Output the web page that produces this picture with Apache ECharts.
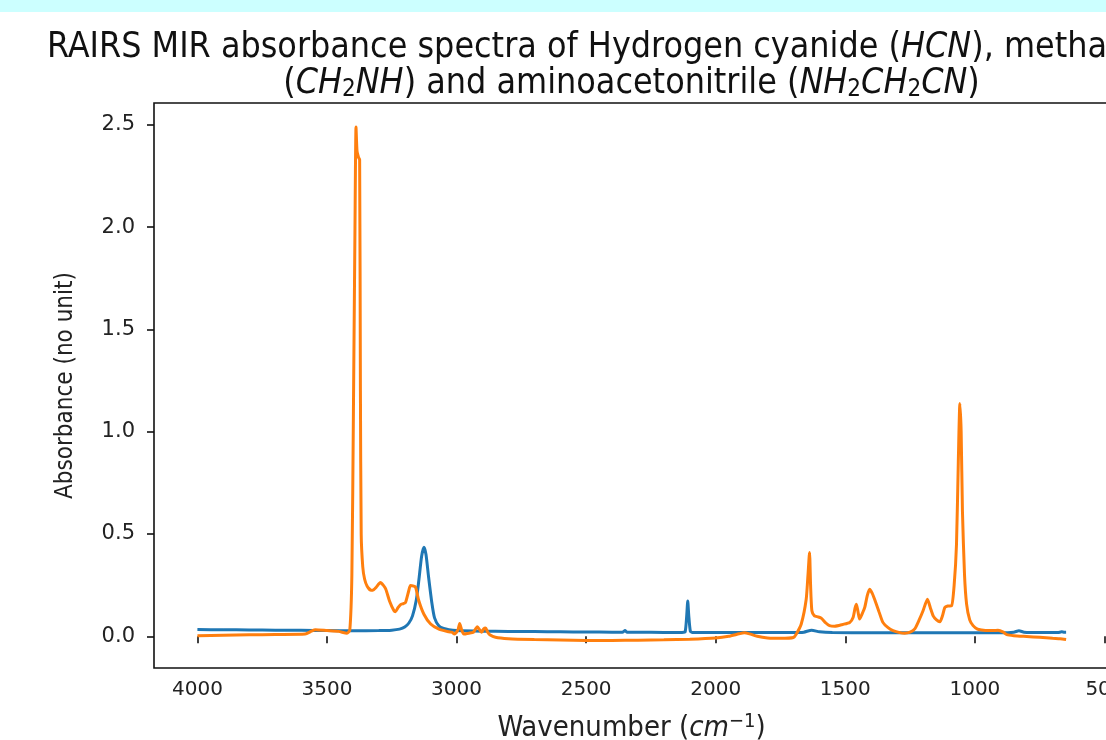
<!DOCTYPE html>
<html>
<head>
<meta charset="utf-8">
<script src="https://cdn.jsdelivr.net/npm/echarts@6/dist/echarts.min.js"></script>
<style>
html,body{margin:0;padding:0;background:#fff;}
#chart{width:1106px;height:740px;}
</style>
</head>
<body>
<div id="chart"></div>
<script>
// Series 1 (blue)
const blueWavenumber = [4000,3900,3800,3700,3600,3500,3400,3300,3250,3220,3200,3184,3170,3155,3145,3135,3126,3118,3108,3095,3085,3068,3050,3030,3000,2900,2800,2700,2600,2500,2400,2360,2350,2343,2300,2200,2130,2118,2112,2108,2104,2098,2090,2000,1900,1800,1700,1660,1630,1600,1550,1400,1200,1000,900,850,830,810,750,680,665,655,648];
const blueAbsorbance = [0.033,0.032,0.031,0.030,0.029,0.028,0.027,0.028,0.030,0.035,0.045,0.065,0.10,0.18,0.28,0.39,0.435,0.40,0.29,0.16,0.09,0.05,0.038,0.032,0.028,0.025,0.024,0.023,0.022,0.021,0.020,0.020,0.028,0.020,0.020,0.019,0.019,0.022,0.10,0.173,0.10,0.025,0.019,0.018,0.018,0.018,0.018,0.020,0.030,0.022,0.018,0.017,0.017,0.017,0.017,0.020,0.027,0.020,0.018,0.018,0.022,0.020,0.020];

// Series 2 (orange)
const orangeWavenumber = [4000,3900,3800,3700,3584,3560,3545,3500,3455,3423,3412,3404,3398,3392,3388,3384,3378,3374,3371,3368,3362,3355,3345,3330,3323,3310,3294,3283,3273,3258,3242,3236,3226,3216,3205,3197,3185,3178,3165,3158,3146,3126,3100,3068,3030,3018,3008,2995,2988,2980,2972,2952,2935,2920,2910,2903,2896,2888,2880,2872,2850,2800,2700,2600,2500,2400,2300,2200,2100,2000,1950,1910,1890,1870,1840,1800,1750,1700,1689,1670,1651,1644,1638,1634,1629,1619,1605,1593,1575,1561,1541,1510,1483,1470,1462,1457,1451,1445,1435,1425,1415,1406,1396,1387,1370,1355,1335,1316,1290,1271,1250,1232,1215,1200,1183,1172,1161,1148,1135,1125,1116,1105,1090,1080,1071,1064,1058,1053,1048,1040,1032,1020,1007,990,974,950,929,911,890,877,850,800,750,700,671,648];
const orangeAbsorbance = [0.003,0.005,0.007,0.009,0.011,0.025,0.032,0.028,0.024,0.015,0.03,0.3,1.1,2.0,2.49,2.37,2.34,2.33,1.2,0.5,0.34,0.28,0.245,0.225,0.225,0.24,0.263,0.25,0.23,0.17,0.126,0.12,0.14,0.155,0.16,0.165,0.22,0.248,0.245,0.24,0.175,0.108,0.06,0.035,0.022,0.02,0.011,0.03,0.063,0.03,0.011,0.015,0.02,0.047,0.03,0.02,0.035,0.04,0.02,0.008,-0.005,-0.012,-0.016,-0.018,-0.02,-0.02,-0.019,-0.017,-0.014,-0.008,0.0,0.012,0.017,0.012,0.0,-0.008,-0.01,-0.006,0.011,0.06,0.18,0.3,0.41,0.25,0.125,0.10,0.095,0.089,0.065,0.052,0.049,0.058,0.068,0.092,0.14,0.157,0.12,0.084,0.11,0.141,0.20,0.23,0.21,0.181,0.12,0.068,0.042,0.028,0.018,0.015,0.02,0.036,0.08,0.125,0.181,0.14,0.10,0.08,0.071,0.10,0.141,0.148,0.149,0.25,0.449,0.85,1.138,1.0,0.611,0.3,0.157,0.08,0.052,0.035,0.031,0.028,0.028,0.029,0.02,0.008,0.003,-0.001,-0.005,-0.01,-0.012,-0.016];

const xTickValues = [4000,3500,3000,2500,2000,1500,1000,500];
const yTickValues = [0.0,0.5,1.0,1.5,2.0,2.5];

const FONT = "DejaVu Sans";
const CFONT = "'DejaVu Sans Condensed', 'DejaVu Sans'";
const chart = echarts.init(document.getElementById('chart'), null, {renderer:'canvas'});

function pairs(xs, ys){ return xs.map((x,i)=>[x, ys[i]]); }

const option = {
  animation: false,
  backgroundColor: '#ffffff',
  graphic: [{
    type: 'rect', left: 0, top: 0, z: -1,
    shape: {width: 1106, height: 12},
    style: {fill: '#ccffff'}
  }],
  title: {
    left: 631.5, top: 30, padding: 0,
    textAlign: 'center',
    text: '{n|RAIRS MIR absorbance spectra of Hydrogen cyanide (}{i|HCN}{n|), methanimine}\n{n|(}{i|CH}{s|2}{i|NH}{n|) and aminoacetonitrile (}{i|NH}{s|2}{i|CH}{s|2}{i|CN}{n|)}',
    textStyle: {
      fontWeight: 'normal',
      rich: {
        n: {fontFamily: CFONT, fontSize: 35.5, fontWeight: 'normal', color: '#111', lineHeight: 36},
        i: {fontFamily: CFONT, fontSize: 35.5, fontWeight: 'normal', color: '#111', fontStyle: 'italic', lineHeight: 36},
        s: {fontFamily: CFONT, fontSize: 24, fontWeight: 'normal', color: '#111', lineHeight: 20, verticalAlign: 'bottom'}
      }
    }
  },
  grid: {
    left: 154, top: 103, width: 955, height: 565,
    outerBoundsMode: 'none', containLabel: false,
    show: true, borderColor: '#111', borderWidth: 1.6, backgroundColor: 'transparent'
  },
  xAxis: {
    type: 'value', inverse: true, min: 482.5, max: 4167.5,
    axisLine: {show: false},
    splitLine: {show: false},
    axisTick: {show: true, length: 7, lineStyle: {color: '#111', width: 1.6}, customValues: xTickValues},
    axisLabel: {customValues: xTickValues, fontFamily: FONT, fontSize: 20, color: '#222', margin: 12,
      hideOverlap: false, formatter: v => String(v)},
    name: '{n|Wavenumber (}{i|cm}{p|\u22121}{n|)}',
    nameLocation: 'middle', nameGap: 44,
    nameTextStyle: {
      rich: {
        n: {fontFamily: CFONT, fontSize: 29, color: '#222', lineHeight: 32},
        i: {fontFamily: CFONT, fontSize: 29, color: '#222', fontStyle: 'italic', lineHeight: 32},
        p: {fontFamily: CFONT, fontSize: 20, color: '#222', lineHeight: 18, verticalAlign: 'top'}
      }
    }
  },
  yAxis: {
    type: 'value', min: -0.155, max: 2.607,
    axisLine: {show: false},
    splitLine: {show: false},
    axisTick: {show: true, length: 7, lineStyle: {color: '#111', width: 1.6}, customValues: yTickValues},
    axisLabel: {customValues: yTickValues, fontFamily: FONT, fontSize: 21, color: '#222', margin: 19,
      formatter: v => v.toFixed(1)},
    name: 'Absorbance (no unit)',
    nameLocation: 'middle', nameGap: 76,
    nameTextStyle: {fontFamily: CFONT, fontSize: 24, color: '#222'}
  },
  series: [
    {type: 'line', data: pairs(blueWavenumber, blueAbsorbance), showSymbol: false, symbol: 'none',
     smooth: 0.2, lineStyle: {color: '#1f77b4', width: 3}, itemStyle: {color: '#1f77b4'}, z: 2},
    {type: 'line', data: pairs(orangeWavenumber, orangeAbsorbance), showSymbol: false, symbol: 'none',
     smooth: 0.2, lineStyle: {color: '#ff7f0e', width: 3}, itemStyle: {color: '#ff7f0e'}, z: 3}
  ]
};
chart.setOption(option);
</script>
</body>
</html>
